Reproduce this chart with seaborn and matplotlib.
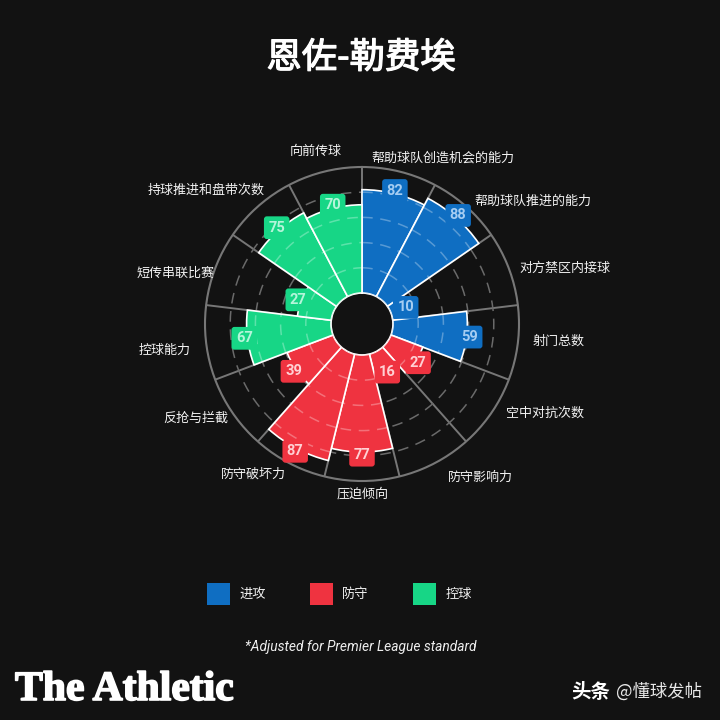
import numpy as np
import pandas as pd
import matplotlib
matplotlib.use('Agg')
import matplotlib.pyplot as plt
import matplotlib.patheffects as pe
from matplotlib.patches import Patch
import seaborn as sns

# data, clockwise from 12 o'clock
metrics = ['帮助球队创造机会的能力', '帮助球队推进的能力', '对方禁区内接球', '射门总数',
           '空中对抗次数', '防守影响力', '压迫倾向', '防守破坏力', '反抢与拦截',
           '控球能力', '短传串联比赛', '持球推进和盘带次数', '向前传球']
values = [82, 88, 10, 59, 27, 16, 77, 87, 39, 67, 27, 75, 70]
groups = ['进攻'] * 4 + ['防守'] * 5 + ['控球'] * 4
group_names = ['进攻', '防守', '控球']
rings = [20, 40, 60, 80]

title = '恩佐-勒费埃'
footnote = '*Adjusted for Premier League standard'
logo = 'The Athletic'
watermark_a = '头条'
watermark_b = '@懂球发帖'

# layout and style, not data
BG = '#121212'
palette = dict(zip(group_names, ['#0f6ec2', '#ef3340', '#17d686']))
tints = dict(zip(group_names, ['#a5cdf2', '#ffd0d4', '#b5f5da']))
label_px = [(443, 158), (533, 201), (565, 268), (559, 341), (545, 413), (480, 477), (363, 494),
            (253, 474), (196, 418), (165, 350), (176, 273), (206, 190), (316, 151)]

sns.set_theme(style='dark')
plt.rcParams['font.family'] = ['Noto Sans CJK SC', 'DejaVu Sans']

n = len(values)
step = 2 * np.pi / n
df = pd.DataFrame({'metric': metrics, 'value': values, 'group': groups})
df['theta'] = (np.arange(n) + 0.5) * step

fig = plt.figure(figsize=(7.2, 7.2), dpi=100, facecolor=BG)
# axes square is 314 px wide, centred on the chart centre (362, 324)
ax = fig.add_axes([(362 - 157) / 720, 1 - (324 + 157) / 720, 314 / 720, 314 / 720], projection='polar')
ax.set_facecolor(BG)
ax.set_theta_zero_location('N')
ax.set_theta_direction(-1)

sns.barplot(data=df, x='theta', y='value', hue='group', palette=palette, hue_order=group_names,
            native_scale=True, dodge=False, width=1.0, saturation=1, legend=False, ax=ax,
            edgecolor='white', linewidth=1.2, zorder=3)

ax.set_xlim(0, 2 * np.pi)
ax.set_ylim(0, 100)
ax.set_rorigin(-100 * 31 / 126)
ax.set_xlabel('')
ax.set_ylabel('')
ax.set_xticks(np.arange(n) * step)
ax.set_xticklabels([])
ax.set_yticks(rings)
ax.set_yticklabels([])
ax.grid(False)
ax.spines['polar'].set_color('#777777')
ax.spines['polar'].set_linewidth(1.5)

# spokes and rings under the bars
t = np.linspace(0, 2 * np.pi, 400)
for i in range(n):
    ax.plot([i * step, i * step], [0, 100], color='#777777', lw=1.4, zorder=1)
for r in rings:
    ax.plot(t, np.full_like(t, r), color='#6a6a6a', lw=1.1, ls=(0, (7, 5)), zorder=2)

# same rings again, paler, only where a bar covers them
for _, row in df.iterrows():
    arc = np.linspace(row['theta'] - step / 2, row['theta'] + step / 2, 40)
    for r in rings:
        if r < row['value']:
            ax.plot(arc, np.full_like(arc, r), color='white', alpha=0.3, lw=1.1, ls=(0, (7, 5)), zorder=4)

# value tags
for _, row in df.iterrows():
    ax.text(row['theta'], row['value'] + 2.5, str(row['value']), ha='center', va='center',
            color=tints[row['group']], fontsize=10.5, fontweight='bold', family=['Roboto', 'DejaVu Sans'],
            zorder=6, bbox=dict(boxstyle='round,pad=0.3,rounding_size=0.2', fc=palette[row['group']], ec='none'))

for name, (x, y) in zip(metrics, label_px):
    fig.text(x / 720, 1 - y / 720, name, ha='center', va='center', color='#f2f2f2', fontsize=9.4)

fig.text(361 / 720, 1 - 58 / 720, title, ha='center', va='center', color='white', fontsize=25.5,
         path_effects=[pe.withStroke(linewidth=0.9, foreground='white')])
fig.text(361 / 720, 1 - 647 / 720, footnote, ha='center', va='center', color='#eeeeee', fontsize=9.9,
         style='italic', family='Roboto')
fig.text(15 / 720, 1 - 690 / 720, logo, ha='left', va='center', color='white', fontsize=30,
         fontweight='bold', family='Liberation Serif',
         path_effects=[pe.withStroke(linewidth=1.2, foreground='white')])
fig.text(610 / 720, 1 - 692 / 720, watermark_a, ha='right', va='center', color='white', fontsize=14, fontweight='bold')
fig.text(702 / 720, 1 - 692 / 720, watermark_b, ha='right', va='center', color='#e8e8e8', fontsize=12.5)

handles = [Patch(facecolor=palette[g], edgecolor='none', label=g) for g in group_names]
fig.legend(handles=handles, loc='center', bbox_to_anchor=(339.5 / 720, 1 - 594 / 720), ncol=3, frameon=False,
           fontsize=9.5, labelcolor='#f2f2f2', handlelength=1.7, handleheight=2.2,
           handletextpad=0.7, columnspacing=3.4, borderpad=0)

fig.savefig('out.png', dpi=100, facecolor=BG)
